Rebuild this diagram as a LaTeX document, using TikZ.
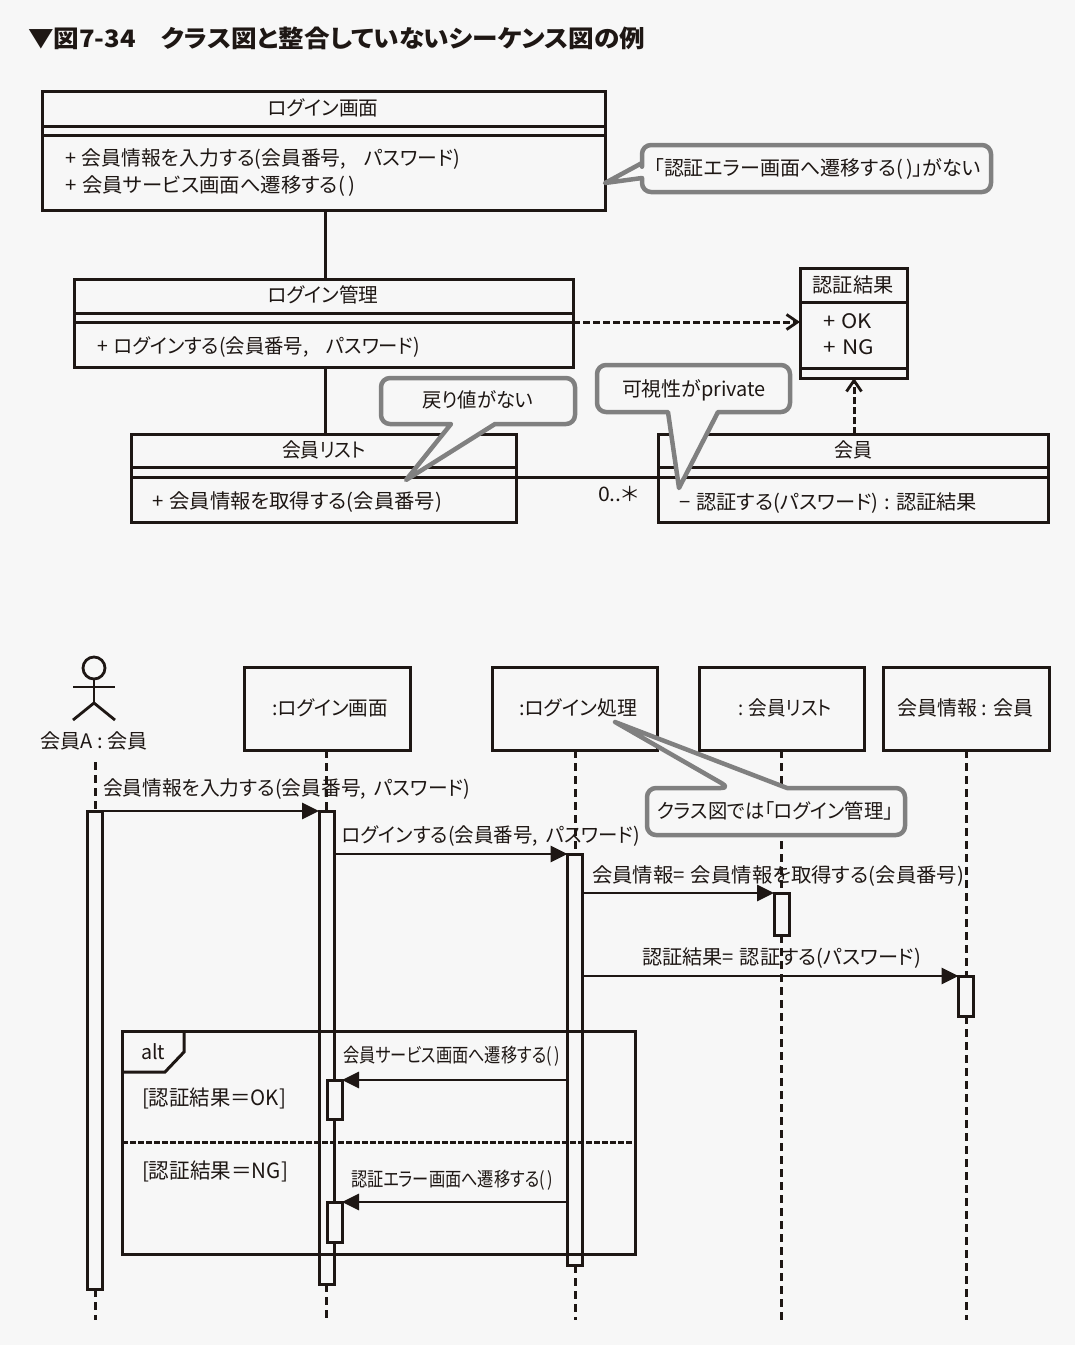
\documentclass[tikz,border=0pt]{standalone}
\usepackage{fontspec}
\usepackage{graphicx}
\setmainfont[RawFeature=+palt]{Noto Sans CJK JP}
\usetikzlibrary{arrows.meta,calc}
\definecolor{bg}{HTML}{F7F7F7}
\definecolor{ink}{HTML}{1E1714}
\definecolor{callgray}{HTML}{808080}
\newcommand{\W}[2]{\resizebox{#1pt}{\height}{#2}}
\newcommand{\PL}{+\hspace{.3em}}
\tikzset{
  x=1pt,y=-1pt,
  every node/.style={text=ink,inner sep=0pt,outer sep=0pt},
  txt/.style={font=\fontsize{20}{22}\selectfont,text height=17pt,text depth=2pt},
  small/.style={font=\fontsize{19.5}{22}\selectfont,text height=17pt,text depth=2pt},
  guard/.style={font=\fontsize{21}{22}\selectfont,text height=18pt,text depth=2pt},
  cbox/.style={draw=ink,line width=3pt,anchor=north west,fill=bg},
  rule/.style={draw=ink,line width=3pt},
  assoc/.style={draw=ink,line width=3pt},
  dep/.style={draw=ink,line width=3pt,dash pattern=on 7pt off 3pt,-{Straight Barb[length=11pt,width=15pt,line width=2.8pt]}},
  callout/.style={draw=callgray,line width=4.5pt,fill=bg,line join=round},
  life/.style={draw=ink,line width=3pt,dash pattern=on 8pt off 5pt},
  act/.style={draw=ink,line width=3pt,fill=bg,anchor=north west},
  msg/.style={draw=ink,line width=2.8pt,-{Triangle[length=17pt,width=16pt]}},
}
\begin{document}
\begin{tikzpicture}
\useasboundingbox (0,0) rectangle (1075,1345);
\fill[bg] (0,0) rectangle (1075,1345);

% title
\node[anchor=west,font=\bfseries\fontsize{24}{26}\selectfont] (title) at (28,38) {\W{617}{▼図7-34　クラス図と整合していないシーケンス図の例}};

% class diagram -------------------------------------------------
\node[cbox,minimum width=563pt,minimum height=119pt] (c1) at (42,91) {};
\node[cbox,minimum width=499pt,minimum height=88pt] (c2) at (74,279) {};
\node[cbox,minimum width=385pt,minimum height=88pt] (c3) at (131,434) {};
\node[cbox,minimum width=390pt,minimum height=88pt] (c4) at (658,434) {};
\node[cbox,minimum width=107pt,minimum height=110pt] (c5) at (800,268) {};

\draw[rule] (c1.west |- 0,126) -- (c1.east |- 0,126);
\draw[rule] (c1.west |- 0,135) -- (c1.east |- 0,135);
\draw[rule] (c2.west |- 0,313) -- (c2.east |- 0,313);
\draw[rule] (c2.west |- 0,322) -- (c2.east |- 0,322);
\draw[rule] (c3.west |- 0,467) -- (c3.east |- 0,467);
\draw[rule] (c3.west |- 0,477) -- (c3.east |- 0,477);
\draw[rule] (c4.west |- 0,467) -- (c4.east |- 0,467);
\draw[rule] (c4.west |- 0,477) -- (c4.east |- 0,477);
\draw[rule] (c5.west |- 0,302) -- (c5.east |- 0,302);
\draw[rule] (c5.west |- 0,368) -- (c5.east |- 0,368);

\node[txt] (c1t) at (323,108) {\W{111}{ログイン画面}};
\node[txt,anchor=west] (c1a) at (65,158) {\W{395}{\PL 会員情報を入力する(会員番号,\hspace{.9em}パスワード)}};
\node[txt,anchor=west] (c1b) at (65,185) {\W{290}{\PL 会員サービス画面へ遷移する(\hspace{.15em})}};
\node[txt] (c2t) at (323,295) {\W{111}{ログイン管理}};
\node[txt,anchor=west] (c2a) at (97,346) {\W{323}{\PL ログインする(会員番号,\hspace{.9em}パスワード)}};
\node[txt] (c3t) at (324,450) {\W{84}{会員リスト}};
\node[txt,anchor=west] (c3a) at (152,501) {\W{290}{\PL 会員情報を取得する(会員番号)}};
\node[txt] (c4t) at (853,450) {\W{38}{会員}};
\node[txt,anchor=west] (c4a) at (679,502) {\W{298}{−\hspace{.3em}認証する(パスワード)\hspace{.3em}:\hspace{.3em}認証結果}};
\node[txt] (c5t) at (853,285) {\W{81}{認証結果}};
\node[txt,anchor=west] (c5a) at (823,321) {\W{49}{\PL OK}};
\node[txt,anchor=west] (c5b) at (823,347) {\W{51}{\PL NG}};
\node[txt,anchor=west] (mult) at (598,494) {\W{41}{0..＊}};

\draw[assoc] (c1.south -| 325,0) -- (c2.north -| 325,0);
\draw[assoc] (c2.south -| 325,0) -- (c3.north -| 325,0);
\draw[assoc] (c3.east |- 0,477) -- (c4.west |- 0,477);
\draw[dep] (c2.east |- 0,322) -- (c5.west |- 0,322);
\draw[dep] (c4.north -| 854,0) -- (c5.south -| 854,0);

% callouts
\draw[callout] (642,172) [rounded corners=9pt] -- (642,145) -- (991,145) -- (991,192) -- (642,192) [sharp corners] -- (642,178) -- (605,183) -- (642,163) [rounded corners=9pt] -- cycle;
\node[txt,anchor=west] (n1) at (654,168) {\W{327}{「認証エラー画面へ遷移する(\hspace{.15em})」がない}};

\draw[callout] (435,378) [rounded corners=9pt] -- (575,378) -- (575,424) [sharp corners] -- (495,424) -- (406,480) -- (451,424) [rounded corners=9pt] -- (381,424) -- (381,378) -- cycle;
\node[txt] (n2) at (478,400) {\W{111}{戻り値がない}};

\draw[callout] (690,365) [rounded corners=9pt] -- (790,365) -- (790,412) [sharp corners] -- (718,412) -- (679,488) -- (668,412) [rounded corners=9pt] -- (597,412) -- (597,365) -- cycle;
\node[txt] (n3) at (694,389) {\W{144}{可視性がprivate}};

% sequence diagram ---------------------------------------------
\node[cbox,minimum width=166pt,minimum height=83pt] (s2) at (244,667) {};
\node[cbox,minimum width=165pt,minimum height=83pt] (s3) at (492,667) {};
\node[cbox,minimum width=165pt,minimum height=83pt] (s4) at (699,667) {};
\node[cbox,minimum width=166pt,minimum height=83pt] (s5) at (883,667) {};
\node[txt] (s2t) at (330,708) {\W{116}{:ログイン画面}};
\node[txt] (s3t) at (578,708) {\W{118}{:ログイン処理}};
\node[txt] (s4t) at (785,708) {\W{94}{: 会員リスト}};
\node[txt] (s5t) at (965,708) {\W{136}{会員情報 : 会員}};

% actor
\node[draw=ink,line width=2.8pt,circle,minimum size=22pt,fill=bg] (head) at (94,668) {};
\coordinate (hip) at (94,703);
\coordinate (armL) at (73,687);
\coordinate (armR) at (115,687);
\coordinate (legL) at (73,720);
\coordinate (legR) at (115,720);
\draw[assoc,line width=2.8pt] (head.south) -- (hip);
\draw[assoc,line width=2.8pt] (armL) -- (armR);
\draw[assoc,line width=2.8pt] (legL) -- (hip) -- (legR);
\node[txt] (s1t) at (94,741) {\W{107}{会員A : 会員}};
\coordinate (s1) at (95,762);

% lifeline ends
\coordinate (e1) at (95,1320);
\coordinate (e2) at (326.5,1320);
\coordinate (e3) at (575,1320);
\coordinate (e4) at (781.5,1320);
\coordinate (e5) at (966,1320);

% activations
\node[act,minimum width=15pt,minimum height=478pt] (a1) at (87.5,811) {};
\node[act,minimum width=15pt,minimum height=473pt] (a2) at (319,811) {};
\node[act,minimum width=15pt,minimum height=411pt] (a3) at (567.5,854) {};
\node[act,minimum width=15pt,minimum height=42pt] (a4) at (774,893) {};
\node[act,minimum width=15pt,minimum height=40pt] (a5) at (958.5,976) {};

% lifelines
\draw[life] (s1 -| a1.north) -- (a1.north);
\draw[life] (a1.south) -- (e1);
\draw[life] (s2.south -| a2.north) -- (a2.north);
\draw[life] (a2.south) -- (e2);
\draw[life] (s3.south -| a3.north) -- (a3.north);
\draw[life] (a3.south) -- (e3);
\draw[life] (s4.south -| a4.north) -- (a4.north);
\draw[life] (a4.south) -- (e4);
\draw[life] (s5.south -| a5.north) -- (a5.north);
\draw[life] (a5.south) -- (e5);

% alt frame
\node[draw=ink,line width=3pt,anchor=north west,minimum width=513pt,minimum height=223pt] (alt) at (122,1031) {};
\coordinate (tagA) at (184,1031);
\coordinate (tagB) at (184,1052);
\coordinate (tagC) at (165,1072);
\coordinate (tagD) at (122,1072);
\draw[rule] (tagA) -- (tagB) -- (tagC) -- (tagD);
\node[txt,anchor=west] (altt) at (141,1052) {\W{24}{alt}};
\draw[draw=ink,line width=3pt,dash pattern=on 6pt off 2pt] (alt.west |- 0,1142) -- (alt.east |- 0,1142);
\node[guard,anchor=west] (g1) at (142,1097) {\W{144}{[認証結果＝OK]}};
\node[guard,anchor=west] (g2) at (142,1170) {\W{146}{[認証結果＝NG]}};

% small activations
\node[act,minimum width=15pt,minimum height=39pt] (a6) at (327,1080) {};
\node[act,minimum width=15pt,minimum height=40pt] (a7) at (327,1202) {};

% messages
\draw[msg] (a1.north east) -- (a2.north west);
\draw[msg] (a3.north west -| a2.east) -- (a3.north west);
\draw[msg] (a4.north west -| a3.east) -- (a4.north west);
\draw[msg] (a5.north west -| a3.east) -- (a5.north west);
\draw[msg] (a6.north east -| a3.west) -- (a6.north east);
\draw[msg] (a7.north east -| a3.west) -- (a7.north east);

\node[txt,anchor=west] (m1) at (103,788) {\W{367}{会員情報を入力する(会員番号,\hspace{.4em}パスワード)}};
\node[txt,anchor=west] (m2) at (342,835) {\W{298}{ログインする(会員番号,\hspace{.4em}パスワード)}};
\node[txt,anchor=west] (m3) at (592,875) {\W{372}{会員情報=\hspace{.3em}会員情報を取得する(会員番号)}};
\node[txt,anchor=west] (m4) at (642,957) {\W{279}{認証結果=\hspace{.3em}認証する(パスワード)}};
\node[small,anchor=west] (m5) at (343,1055) {\W{217}{会員サービス画面へ遷移する(\hspace{.15em})}};
\node[small,anchor=west] (m6) at (351,1179) {\W{202}{認証エラー画面へ遷移する(\hspace{.15em})}};

% callout over ログイン処理
\draw[callout] (700,788) [rounded corners=9pt] -- (730,788) [sharp corners] -- (615,722) -- (787,788) [rounded corners=9pt] -- (905,788) -- (905,835) -- (647,835) -- (647,788) -- cycle;
\node[txt,anchor=west] (n4) at (657,811) {\W{236}{クラス図では「ログイン管理」}};
\end{tikzpicture}
\end{document}
